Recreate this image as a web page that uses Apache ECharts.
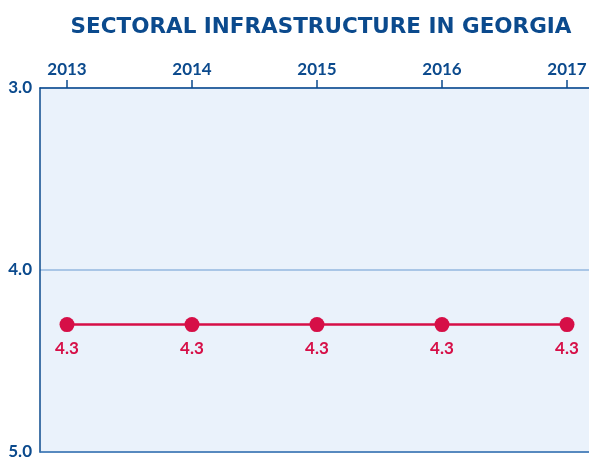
<!DOCTYPE html>
<html>
<head>
<meta charset="utf-8">
<script src="https://cdn.jsdelivr.net/npm/echarts@6/dist/echarts.min.js"></script>
<style>
  html, body { margin: 0; padding: 0; background: #ffffff; overflow: hidden; }
  #chart { width: 589px; height: 457px; overflow: hidden; }
</style>
</head>
<body>
<div id="chart"></div>
<script>
// Years along the top axis and the score for each year
const years = [2013, 2014, 2015, 2016, 2017];
const scores = [4.3, 4.3, 4.3, 4.3, 4.3];
const yTicks = [3, 4, 5];

const navy = '#0b4a8d';
const red = '#d60f47';
const font = 'Lato, sans-serif';
const titleFont = '"DejaVu Sans", sans-serif';
const xMin = 2012.784, xMax = 2017.256;

const chart = echarts.init(document.getElementById('chart'));
chart.setOption({
  animation: false,
  title: {
    text: 'SECTORAL INFRASTRUCTURE IN GEORGIA',
    left: 316,
    textAlign: 'center',
    top: 11,
    textStyle: { color: navy, fontFamily: titleFont, fontWeight: 'bold', fontSize: 21.5 }
  },
  grid: {
    left: 40, top: 88, right: -10, bottom: 5,
    outerBoundsMode: 'none',
    show: true,
    backgroundColor: '#eaf2fb',
    borderWidth: 0
  },
  xAxis: [{
    type: 'value',
    position: 'top',
    min: xMin,
    max: xMax,
    axisLine: { show: true, lineStyle: { color: navy, width: 1.5 } },
    axisTick: { show: true, customValues: years, length: 8, lineStyle: { color: navy, width: 1.5 } },
    axisLabel: {
      customValues: years,
      color: navy, fontFamily: font, fontWeight: 'bold', fontSize: 17, margin: 10,
      formatter: v => String(v)
    },
    splitLine: { show: false }
  }, {
    // bottom frame line of the plot
    type: 'value',
    position: 'bottom',
    min: xMin,
    max: xMax,
    axisLine: { show: true, lineStyle: { color: '#3d75b3', width: 1.5 } },
    axisTick: { show: false },
    axisLabel: { show: false },
    splitLine: { show: false }
  }],
  yAxis: {
    type: 'value',
    inverse: true,
    min: 3,
    max: 5,
    interval: 1,
    axisLine: { show: true, lineStyle: { color: navy, width: 1.5 } },
    axisTick: { show: false },
    axisLabel: {
      color: navy, fontFamily: font, fontWeight: 'bold', fontSize: 17, margin: 8,
      formatter: v => yTicks.includes(v) ? v.toFixed(1) : ''
    },
    splitLine: { show: true, lineStyle: { color: '#a9c6e6', width: 2 } }
  },
  series: [{
    type: 'line',
    data: years.map((y, i) => [y, scores[i]]),
    symbol: 'circle',
    symbolSize: 15,
    lineStyle: { color: red, width: 2.5 },
    itemStyle: { color: red },
    label: {
      show: true, position: 'bottom', distance: 8,
      color: red, fontFamily: font, fontWeight: 'bold', fontSize: 17,
      formatter: p => p.value[1].toFixed(1)
    }
  }]
});
</script>
</body>
</html>
